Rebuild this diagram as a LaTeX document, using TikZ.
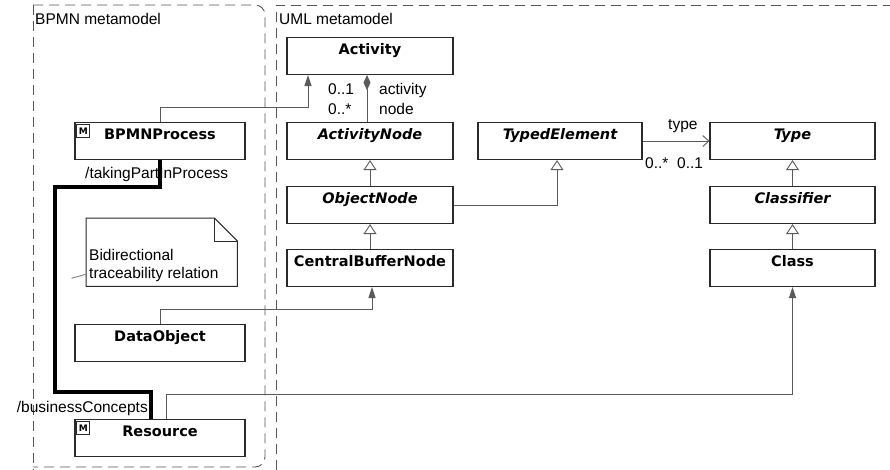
\documentclass[tikz,border=0pt]{standalone}
\usepackage{fontspec}
\setmainfont{Liberation Sans}
\newfontfamily\clsfont{DejaVu Sans}
\usetikzlibrary{arrows.meta,positioning}
\definecolor{frameline}{HTML}{555555}
\definecolor{linkline}{HTML}{5A5A5A}
\definecolor{boxline}{HTML}{2A2A2A}

\begin{document}
\begin{tikzpicture}[
      x=1pt, y=-1pt,
      font=\fontsize{15.5}{18}\selectfont,
      pkg/.style={draw=frameline, line width=0.9pt, dash pattern=on 10pt off 6pt},
      cls/.style={draw=boxline, line width=1.1pt, fill=white, inner xsep=2pt, inner ysep=0pt,
                  minimum width=166pt, text height=17pt, text depth=20pt, anchor=north,
                  font=\clsfont\bfseries\fontsize{14.5}{17}\selectfont},
      abscls/.style={cls, font=\clsfont\bfseries\itshape\fontsize{14.5}{17}\selectfont},
      mbadge/.style={draw=boxline, line width=0.8pt, anchor=north west, inner sep=0pt,
                     minimum size=13pt, font=\clsfont\bfseries\fontsize{9}{9}\selectfont},
      lbl/.style={anchor=base west, inner sep=0pt},
      gen/.style={draw=linkline, line width=0.9pt,
                  -{Triangle[open, length=10pt, width=13pt, fill=white]}},
      nav/.style={draw=linkline, line width=0.9pt, -{Triangle[length=11pt, width=7pt]}},
      comp/.style={draw=linkline, line width=0.9pt, -{Diamond[length=15pt, width=7pt]}},
      assoc/.style={draw=linkline, line width=0.9pt, -{Straight Barb[length=6pt, width=11pt]}},
      trace/.style={draw=black, line width=4.5pt, line join=miter},
      noteline/.style={draw=boxline, line width=1pt},
      notelink/.style={draw=gray, line width=0.9pt, dash pattern=on 15pt off 20pt}
    ]

    \useasboundingbox[fill=white] (0,0) rectangle (890,470);

    % packages
    \draw[pkg] (33,5) -- (33,470);
    \draw[pkg, rounded corners=10pt] (33,5) -- (265,5) -- (265,467) -- (33,467);
    \draw[pkg] (276,470) -- (276,5) -- (890,5);
    \node[lbl] (bpmnlbl) at (35,25) {BPMN metamodel};
    \node[lbl] (umllbl) at (279,25) {UML metamodel};

    % UML classes
    \node[cls] (activity) at (370,37) {Activity};
    \node[abscls] (actnode) at (370,122) {ActivityNode};
    \node[abscls] (objnode) at (370,186) {ObjectNode};
    \node[cls] (cbnode) at (370,249) {CentralBufferNode};
    \node[abscls, minimum width=164pt] (typedel) at (560,122) {TypedElement};
    \node[abscls, minimum width=165pt] (type) at (792.5,122) {Type};
    \node[abscls, minimum width=165pt] (classifier) at (792.5,186) {Classifier};
    \node[cls, minimum width=165pt] (class) at (792.5,249) {Class};

    % BPMN classes
    \node[cls, minimum width=170pt] (bpmnproc) at (160,122) {BPMNProcess};
    \node[cls, minimum width=170pt] (dataobj) at (160,324) {DataObject};
    \node[cls, minimum width=170pt] (resource) at (160,419) {Resource};
    \node[mbadge] (procm) at ([xshift=2pt,yshift=-2pt]bpmnproc.north west) {M};
    \node[mbadge] (resm) at ([xshift=2pt,yshift=-2pt]resource.north west) {M};

    % note
    \node[minimum width=151pt, minimum height=68pt, anchor=north west, inner sep=0pt] (note) at (86,218) {};
    \draw[noteline] (note.north west) -- ([xshift=-23pt]note.north east)
      -- ([yshift=-23pt]note.north east) -- (note.south east) -- (note.south west) -- cycle;
    \draw[noteline] ([xshift=-23pt]note.north east) |- ([yshift=-23pt]note.north east);
    \node[lbl, align=left] (notetext) at (89,278) {Bidirectional\\traceability relation};

    % associations
    \draw[nav] (bpmnproc.north) -- ++(0,-15) -| ([xshift=-62pt]activity.south);
    \draw[comp] ([xshift=-3pt]actnode.north) -- ([xshift=-3pt]activity.south);
    \node[lbl] (mact) at (328,95) {0..1};
    \node[lbl] (mnode) at (328,115) {0..*};
    \node[lbl] (ract) at (379,95) {activity};
    \node[lbl] (rnode) at (379,115) {node};
    \draw[assoc] (typedel.east) -- (type.west);
    \node[lbl] (rtype) at (668,130) {type};
    \node[lbl] (mtyped) at (645,169) {0..*};
    \node[lbl] (mtype) at (677,169) {0..1};
    \draw[nav] (dataobj.north) -- ++(0,-15) -| ([xshift=2pt]cbnode.south);
    \draw[nav] ([xshift=6pt]resource.north) -- ++(0,-25) -| (class.south);

    % generalizations
    \draw[gen] (objnode.north) -- (actnode.south);
    \draw[gen] (cbnode.north) -- (objnode.south);
    \draw[gen] (objnode.east) -| ([xshift=-3pt]typedel.south);
    \draw[gen] (classifier.north) -- (type.south);
    \draw[gen] (class.north) -- (classifier.south);

    % traceability relation
    \node[lbl] (rtaking) at (85,179) {/takingPartInProcess};
    \node[lbl, anchor=base east] (rbusiness) at (148,412) {/businessConcepts};
    \coordinate (bend1) at (55,187);
    \coordinate (bend2) at (55,392);
    \coordinate (tracept) at (55,283);
    \draw[trace] (bpmnproc.south) |- (bend1) -- (bend2) -| ([xshift=-9pt]resource.north);
    \draw[notelink] ([yshift=-22pt]note.west) -- (tracept);

  \end{tikzpicture}
\end{document}
